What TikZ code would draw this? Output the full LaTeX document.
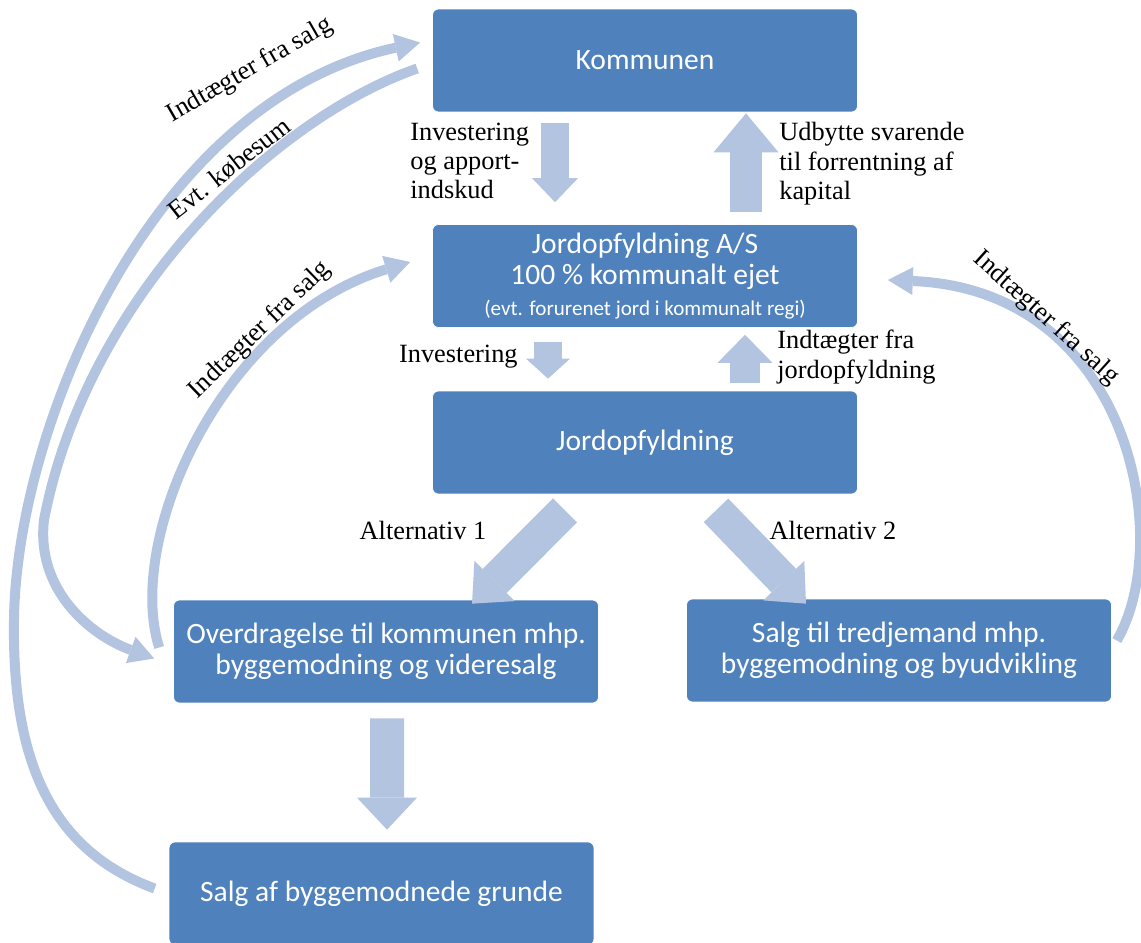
\documentclass[tikz,border=0pt]{standalone}
\usepackage{fontspec}
\setmainfont{Liberation Serif}
\newfontfamily\boxfont{Carlito}
\usetikzlibrary{arrows.meta,calc}
\definecolor{cBox}{HTML}{4F81BD}
\definecolor{cArr}{HTML}{B3C4E0}
\tikzset{
  box/.style={rounded corners=3.4pt,draw=white,line width=.4pt,fill=cBox,
              text=white,minimum width=8.5cm,minimum height=2.06cm,
              align=center,font=\boxfont\fontsize{16.8}{17.6}\selectfont},
  lbl/.style={inner sep=0pt,font=\fontsize{15}{16.7}\selectfont},
  blkarr/.style n args={3}{cArr,line width=#1,
              -{Triangle[width=#2,length=#3,line width=0pt]}},
  curvarr/.style={cArr,line width=.2cm,
              -{Triangle[width=.56cm,length=.5cm,line width=0pt]}},
}
\begin{document}
\begin{tikzpicture}[x=0.02cm,y=-0.02cm]
  \useasboundingbox (0,0) rectangle (1141,942);
  % boxes
  \node[box](kom) at (645,60.5){Kommunen};
  \node[box](aps) at (645,276){Jordopfyldning A/S\\100 \% kommunalt ejet\\
    {\fontsize{12}{14}\selectfont (evt. forurenet jord i kommunalt regi)}};
  \node[box](jord) at (645,442.5){Jordopfyldning};
  \node[box](overd) at (386,651.5){Overdragelse til kommunen mhp.\\byggemodning og videresalg};
  \node[box](tredje) at (899,650.5){Salg til tredjemand mhp.\\byggemodning og byudvikling};
  \node[box](grund) at (381.5,893.5){Salg af byggemodnede grunde};
  % block arrows
  \draw[blkarr={.56cm}{.92cm}{.48cm}]($(kom.south)+(-90,11)$)--($(aps.north)+(-90,-22)$);
  \draw[blkarr={.64cm}{1.3cm}{.78cm}]($(aps.north)+(101,-12)$)--($(kom.south)+(101,1)$);
  \draw[blkarr={.56cm}{.88cm}{.4cm}]($(aps.south)+(-97,14)$)--($(jord.north)+(-97,-12)$);
  \draw[blkarr={.6cm}{1.1cm}{.56cm}]($(jord.north)+(100,-8)$)--($(aps.south)+(100,7)$);
  \draw[blkarr={.68cm}{1.14cm}{.64cm}]($(jord.south)+(-80,16)$)--($(overd.north)+(86,4)$);
  \draw[blkarr={.68cm}{1.14cm}{.64cm}]($(jord.south)+(71,16)$)--($(tredje.north)+(-93,5)$);
  \draw[blkarr={.68cm}{1.2cm}{.64cm}]($(overd.south)+(1,15)$)--($(grund.north)+(5.5,-12)$);
  % curved arrows
  \draw[curvarr]($(grund.west)+(-14,-5)$) .. controls (50,850) and (12,760) .. (14,620)
    .. controls (16,430) and (150,100) .. ($(kom.west)+(-12,-18)$);
  \draw[curvarr]($(kom.west)+(-15,8)$) .. controls (270,120) and (86,300) .. (44,520)
    .. controls (36,590) and (90,635) .. ($(overd.west)+(-19,7)$);
  \draw[curvarr]($(overd.west)+(-14,-4)$) .. controls (125,540) and (220,320) .. ($(aps.west)+(-22,-14)$);
  \draw[curvarr]($(tredje.east)+(5,-10)$) .. controls (1175,540) and (1130,290) .. ($(aps.east)+(30,4)$);
  % labels
  \node[lbl,anchor=west,align=left](lInv) at (410,161){Investering\\og apport-\\indskud};
  \node[lbl,anchor=west,align=left](lUdb) at (779,164){Udbytte svarende\\til forrentning af\\kapital};
  \node[lbl,anchor=east](lInv2) at (518,357){Investering};
  \node[lbl,anchor=west,align=left](lInd) at (777,357){Indtægter fra\\jordopfyldning};
  \node[lbl](lAlt1) at (423,530){Alternativ 1};
  \node[lbl](lAlt2) at (833,530){Alternativ 2};
  \node[lbl,rotate=30](lSalg1) at (250,70){Indtægter fra salg};
  \node[lbl,rotate=38](lKob) at (229,168){Evt. købesum};
  \node[lbl,rotate=44](lSalg2) at (260,330){Indtægter fra salg};
  \node[lbl,rotate=-42](lSalg3) at (1046,318){Indtægter fra salg};
\end{tikzpicture}
\end{document}
